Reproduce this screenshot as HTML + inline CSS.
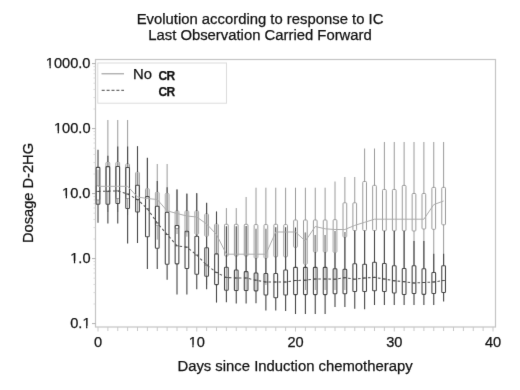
<!DOCTYPE html>
<html><head><meta charset="utf-8"><style>
html,body{margin:0;padding:0;background:#fff;}
body{width:520px;height:390px;position:relative;overflow:hidden;font-family:'Liberation Sans',sans-serif;color:#111;}
.t{position:absolute;white-space:nowrap;line-height:1;-webkit-text-stroke:0.25px #111;}
.one{display:inline-block;clip-path:polygon(0 0,100% 0,100% 69%,61% 69%,61% 100%,45.5% 100%,45.5% 69%,0 69%)}
</style></head><body>
<svg width="0" height="0" style="position:absolute"><defs><filter id="soft" x="0" y="0" width="100%" height="100%" color-interpolation-filters="sRGB"><feConvolveMatrix order="3" kernelMatrix="0.0052 0.0619 0.0052 0.0619 0.7314 0.0619 0.0052 0.0619 0.0052" edgeMode="duplicate" preserveAlpha="true"/></filter></defs></svg>
<div style="position:absolute;left:0;top:0;width:520px;height:390px;overflow:hidden"><div id="wrap" style="position:absolute;left:-10px;top:-10px;width:540px;height:410px;background:#fff;filter:url(#soft)"><div style="position:absolute;left:10px;top:10px;width:520px;height:390px">
<div class="t" style="left:0;width:520px;text-align:center;top:11.6px;font-size:14.85px;">Evolution according to response to IC</div>
<div class="t" style="left:0;width:520px;text-align:center;top:28.2px;font-size:14.85px;">Last Observation Carried Forward</div>
<div class="t" style="left:0;width:590px;text-align:center;top:358.8px;font-size:14.85px;">Days since Induction chemotherapy</div>
<div class="t" style="left:27.7px;top:193.4px;font-size:14.65px;transform:translate(-50%,-50%) rotate(-90deg);">Dosage D-2HG</div>
<div class="t" style="right:429.5px;top:55.8px;font-size:14.6px;"><span class="one">1</span>000.0</div>
<div class="t" style="right:429.5px;top:120.8px;font-size:14.6px;"><span class="one">1</span>00.0</div>
<div class="t" style="right:429.5px;top:185.8px;font-size:14.6px;"><span class="one">1</span>0.0</div>
<div class="t" style="right:429.5px;top:250.8px;font-size:14.6px;"><span class="one">1</span>.0</div>
<div class="t" style="right:429.5px;top:315.8px;font-size:14.6px;">0.<span class="one">1</span></div>
<div class="t" style="left:78.00px;width:40px;text-align:center;top:334.8px;font-size:14.6px;">0</div>
<div class="t xl" style="left:176.75px;width:40px;text-align:center;top:334.8px;font-size:14.6px;"><span class="one">1</span>0</div>
<div class="t xl" style="left:275.50px;width:40px;text-align:center;top:334.8px;font-size:14.6px;">20</div>
<div class="t xl" style="left:374.25px;width:40px;text-align:center;top:334.8px;font-size:14.6px;">30</div>
<div class="t xl" style="left:473.00px;width:40px;text-align:center;top:334.8px;font-size:14.6px;">40</div>
<div class="t" style="left:133px;top:67.1px;font-size:14.85px;">No</div>
<div class="t" style="left:158.6px;top:69.9px;font-size:12px;font-weight:bold;letter-spacing:-0.7px;">CR</div>
<div class="t" style="left:158.6px;top:85.9px;font-size:12px;font-weight:bold;letter-spacing:-0.7px;">CR</div>
<svg width="520" height="390" style="position:absolute;left:0;top:0">
<rect x="95.5" y="59.5" width="400" height="267.5" fill="none" stroke="#c4c4c4" stroke-width="1.2"/>
<line x1="92" y1="323.60" x2="95.5" y2="323.60" stroke="#b0b0b0" stroke-width="1"/>
<line x1="93.5" y1="304.03" x2="95.5" y2="304.03" stroke="#d0d0d0" stroke-width="0.8"/>
<line x1="93.5" y1="292.59" x2="95.5" y2="292.59" stroke="#d0d0d0" stroke-width="0.8"/>
<line x1="93.5" y1="284.47" x2="95.5" y2="284.47" stroke="#d0d0d0" stroke-width="0.8"/>
<line x1="93.5" y1="278.17" x2="95.5" y2="278.17" stroke="#d0d0d0" stroke-width="0.8"/>
<line x1="93.5" y1="273.02" x2="95.5" y2="273.02" stroke="#d0d0d0" stroke-width="0.8"/>
<line x1="93.5" y1="268.67" x2="95.5" y2="268.67" stroke="#d0d0d0" stroke-width="0.8"/>
<line x1="93.5" y1="264.90" x2="95.5" y2="264.90" stroke="#d0d0d0" stroke-width="0.8"/>
<line x1="93.5" y1="261.57" x2="95.5" y2="261.57" stroke="#d0d0d0" stroke-width="0.8"/>
<line x1="92" y1="258.60" x2="95.5" y2="258.60" stroke="#b0b0b0" stroke-width="1"/>
<line x1="93.5" y1="239.03" x2="95.5" y2="239.03" stroke="#d0d0d0" stroke-width="0.8"/>
<line x1="93.5" y1="227.59" x2="95.5" y2="227.59" stroke="#d0d0d0" stroke-width="0.8"/>
<line x1="93.5" y1="219.47" x2="95.5" y2="219.47" stroke="#d0d0d0" stroke-width="0.8"/>
<line x1="93.5" y1="213.17" x2="95.5" y2="213.17" stroke="#d0d0d0" stroke-width="0.8"/>
<line x1="93.5" y1="208.02" x2="95.5" y2="208.02" stroke="#d0d0d0" stroke-width="0.8"/>
<line x1="93.5" y1="203.67" x2="95.5" y2="203.67" stroke="#d0d0d0" stroke-width="0.8"/>
<line x1="93.5" y1="199.90" x2="95.5" y2="199.90" stroke="#d0d0d0" stroke-width="0.8"/>
<line x1="93.5" y1="196.57" x2="95.5" y2="196.57" stroke="#d0d0d0" stroke-width="0.8"/>
<line x1="92" y1="193.60" x2="95.5" y2="193.60" stroke="#b0b0b0" stroke-width="1"/>
<line x1="93.5" y1="174.03" x2="95.5" y2="174.03" stroke="#d0d0d0" stroke-width="0.8"/>
<line x1="93.5" y1="162.59" x2="95.5" y2="162.59" stroke="#d0d0d0" stroke-width="0.8"/>
<line x1="93.5" y1="154.47" x2="95.5" y2="154.47" stroke="#d0d0d0" stroke-width="0.8"/>
<line x1="93.5" y1="148.17" x2="95.5" y2="148.17" stroke="#d0d0d0" stroke-width="0.8"/>
<line x1="93.5" y1="143.02" x2="95.5" y2="143.02" stroke="#d0d0d0" stroke-width="0.8"/>
<line x1="93.5" y1="138.67" x2="95.5" y2="138.67" stroke="#d0d0d0" stroke-width="0.8"/>
<line x1="93.5" y1="134.90" x2="95.5" y2="134.90" stroke="#d0d0d0" stroke-width="0.8"/>
<line x1="93.5" y1="131.57" x2="95.5" y2="131.57" stroke="#d0d0d0" stroke-width="0.8"/>
<line x1="92" y1="128.60" x2="95.5" y2="128.60" stroke="#b0b0b0" stroke-width="1"/>
<line x1="93.5" y1="109.03" x2="95.5" y2="109.03" stroke="#d0d0d0" stroke-width="0.8"/>
<line x1="93.5" y1="97.59" x2="95.5" y2="97.59" stroke="#d0d0d0" stroke-width="0.8"/>
<line x1="93.5" y1="89.47" x2="95.5" y2="89.47" stroke="#d0d0d0" stroke-width="0.8"/>
<line x1="93.5" y1="83.17" x2="95.5" y2="83.17" stroke="#d0d0d0" stroke-width="0.8"/>
<line x1="93.5" y1="78.02" x2="95.5" y2="78.02" stroke="#d0d0d0" stroke-width="0.8"/>
<line x1="93.5" y1="73.67" x2="95.5" y2="73.67" stroke="#d0d0d0" stroke-width="0.8"/>
<line x1="93.5" y1="69.90" x2="95.5" y2="69.90" stroke="#d0d0d0" stroke-width="0.8"/>
<line x1="93.5" y1="66.57" x2="95.5" y2="66.57" stroke="#d0d0d0" stroke-width="0.8"/>
<line x1="92" y1="63.60" x2="95.5" y2="63.60" stroke="#b0b0b0" stroke-width="1"/>
<line x1="98.00" y1="327" x2="98.00" y2="331.5" stroke="#c8c8c8" stroke-width="1"/>
<line x1="107.88" y1="327" x2="107.88" y2="331" stroke="#c8c8c8" stroke-width="1"/>
<line x1="117.75" y1="327" x2="117.75" y2="331" stroke="#c8c8c8" stroke-width="1"/>
<line x1="127.62" y1="327" x2="127.62" y2="331" stroke="#c8c8c8" stroke-width="1"/>
<line x1="137.50" y1="327" x2="137.50" y2="331" stroke="#c8c8c8" stroke-width="1"/>
<line x1="147.38" y1="327" x2="147.38" y2="331" stroke="#c8c8c8" stroke-width="1"/>
<line x1="157.25" y1="327" x2="157.25" y2="331" stroke="#c8c8c8" stroke-width="1"/>
<line x1="167.12" y1="327" x2="167.12" y2="331" stroke="#c8c8c8" stroke-width="1"/>
<line x1="177.00" y1="327" x2="177.00" y2="331" stroke="#c8c8c8" stroke-width="1"/>
<line x1="186.88" y1="327" x2="186.88" y2="331" stroke="#c8c8c8" stroke-width="1"/>
<line x1="196.75" y1="327" x2="196.75" y2="331.5" stroke="#c8c8c8" stroke-width="1"/>
<line x1="206.62" y1="327" x2="206.62" y2="331" stroke="#c8c8c8" stroke-width="1"/>
<line x1="216.50" y1="327" x2="216.50" y2="331" stroke="#c8c8c8" stroke-width="1"/>
<line x1="226.38" y1="327" x2="226.38" y2="331" stroke="#c8c8c8" stroke-width="1"/>
<line x1="236.25" y1="327" x2="236.25" y2="331" stroke="#c8c8c8" stroke-width="1"/>
<line x1="246.12" y1="327" x2="246.12" y2="331" stroke="#c8c8c8" stroke-width="1"/>
<line x1="256.00" y1="327" x2="256.00" y2="331" stroke="#c8c8c8" stroke-width="1"/>
<line x1="265.88" y1="327" x2="265.88" y2="331" stroke="#c8c8c8" stroke-width="1"/>
<line x1="275.75" y1="327" x2="275.75" y2="331" stroke="#c8c8c8" stroke-width="1"/>
<line x1="285.62" y1="327" x2="285.62" y2="331" stroke="#c8c8c8" stroke-width="1"/>
<line x1="295.50" y1="327" x2="295.50" y2="331.5" stroke="#c8c8c8" stroke-width="1"/>
<line x1="305.38" y1="327" x2="305.38" y2="331" stroke="#c8c8c8" stroke-width="1"/>
<line x1="315.25" y1="327" x2="315.25" y2="331" stroke="#c8c8c8" stroke-width="1"/>
<line x1="325.12" y1="327" x2="325.12" y2="331" stroke="#c8c8c8" stroke-width="1"/>
<line x1="335.00" y1="327" x2="335.00" y2="331" stroke="#c8c8c8" stroke-width="1"/>
<line x1="344.88" y1="327" x2="344.88" y2="331" stroke="#c8c8c8" stroke-width="1"/>
<line x1="354.75" y1="327" x2="354.75" y2="331" stroke="#c8c8c8" stroke-width="1"/>
<line x1="364.62" y1="327" x2="364.62" y2="331" stroke="#c8c8c8" stroke-width="1"/>
<line x1="374.50" y1="327" x2="374.50" y2="331" stroke="#c8c8c8" stroke-width="1"/>
<line x1="384.38" y1="327" x2="384.38" y2="331" stroke="#c8c8c8" stroke-width="1"/>
<line x1="394.25" y1="327" x2="394.25" y2="331.5" stroke="#c8c8c8" stroke-width="1"/>
<line x1="404.12" y1="327" x2="404.12" y2="331" stroke="#c8c8c8" stroke-width="1"/>
<line x1="414.00" y1="327" x2="414.00" y2="331" stroke="#c8c8c8" stroke-width="1"/>
<line x1="423.88" y1="327" x2="423.88" y2="331" stroke="#c8c8c8" stroke-width="1"/>
<line x1="433.75" y1="327" x2="433.75" y2="331" stroke="#c8c8c8" stroke-width="1"/>
<line x1="443.62" y1="327" x2="443.62" y2="331" stroke="#c8c8c8" stroke-width="1"/>
<line x1="453.50" y1="327" x2="453.50" y2="331" stroke="#c8c8c8" stroke-width="1"/>
<line x1="463.38" y1="327" x2="463.38" y2="331" stroke="#c8c8c8" stroke-width="1"/>
<line x1="473.25" y1="327" x2="473.25" y2="331" stroke="#c8c8c8" stroke-width="1"/>
<line x1="483.12" y1="327" x2="483.12" y2="331" stroke="#c8c8c8" stroke-width="1"/>
<line x1="493.00" y1="327" x2="493.00" y2="331.5" stroke="#c8c8c8" stroke-width="1"/>
<rect x="97.8" y="63" width="128.7" height="40.2" fill="none" stroke="#dcdcdc" stroke-width="1"/>
<line x1="101.5" y1="73.8" x2="124" y2="73.8" stroke="#9a9a9a" stroke-width="1.1"/>
<line x1="101.7" y1="90.3" x2="124" y2="90.3" stroke="#454545" stroke-width="1" stroke-dasharray="3,1.9"/>
<line x1="98.00" y1="169.6" x2="98.00" y2="185.8" stroke="#9a9a9a" stroke-width="1.0"/><line x1="98.00" y1="200" x2="98.00" y2="204" stroke="#9a9a9a" stroke-width="1.0"/><rect x="96.15" y="185.8" width="3.7" height="14.20" rx="0.8" fill="none" stroke="#9a9a9a" stroke-width="1.0"/>
<line x1="107.88" y1="120" x2="107.88" y2="162.3" stroke="#9a9a9a" stroke-width="1.0"/><line x1="107.88" y1="191.5" x2="107.88" y2="212" stroke="#9a9a9a" stroke-width="1.0"/><rect x="106.03" y="162.3" width="3.7" height="29.20" rx="0.8" fill="none" stroke="#9a9a9a" stroke-width="1.0"/>
<line x1="117.75" y1="120" x2="117.75" y2="162.3" stroke="#9a9a9a" stroke-width="1.0"/><line x1="117.75" y1="198.5" x2="117.75" y2="212" stroke="#9a9a9a" stroke-width="1.0"/><rect x="115.90" y="162.3" width="3.7" height="36.20" rx="0.8" fill="none" stroke="#9a9a9a" stroke-width="1.0"/>
<line x1="127.62" y1="120" x2="127.62" y2="164" stroke="#9a9a9a" stroke-width="1.0"/><line x1="127.62" y1="198.5" x2="127.62" y2="215" stroke="#9a9a9a" stroke-width="1.0"/><rect x="125.78" y="164" width="3.7" height="34.50" rx="0.8" fill="none" stroke="#9a9a9a" stroke-width="1.0"/>
<line x1="137.50" y1="146.5" x2="137.50" y2="172.3" stroke="#9a9a9a" stroke-width="1.0"/><line x1="137.50" y1="199.6" x2="137.50" y2="222" stroke="#9a9a9a" stroke-width="1.0"/><rect x="135.65" y="172.3" width="3.7" height="27.30" rx="0.8" fill="none" stroke="#9a9a9a" stroke-width="1.0"/>
<line x1="147.38" y1="158" x2="147.38" y2="188.6" stroke="#9a9a9a" stroke-width="1.0"/><line x1="147.38" y1="197" x2="147.38" y2="197" stroke="#9a9a9a" stroke-width="1.0"/><rect x="145.53" y="188.6" width="3.7" height="8.40" rx="0.8" fill="none" stroke="#9a9a9a" stroke-width="1.0"/>
<line x1="157.25" y1="164" x2="157.25" y2="192.3" stroke="#9a9a9a" stroke-width="1.0"/><line x1="157.25" y1="225.3" x2="157.25" y2="239.6" stroke="#9a9a9a" stroke-width="1.0"/><rect x="155.40" y="192.3" width="3.7" height="33.00" rx="0.8" fill="none" stroke="#9a9a9a" stroke-width="1.0"/>
<line x1="167.12" y1="164" x2="167.12" y2="193.5" stroke="#9a9a9a" stroke-width="1.0"/><line x1="167.12" y1="212.3" x2="167.12" y2="212.3" stroke="#9a9a9a" stroke-width="1.0"/><rect x="165.28" y="193.5" width="3.7" height="18.80" rx="0.8" fill="none" stroke="#9a9a9a" stroke-width="1.0"/>
<line x1="177.00" y1="190" x2="177.00" y2="211" stroke="#9a9a9a" stroke-width="1.0"/><line x1="177.00" y1="228.6" x2="177.00" y2="234" stroke="#9a9a9a" stroke-width="1.0"/><rect x="175.15" y="211" width="3.7" height="17.60" rx="0.8" fill="none" stroke="#9a9a9a" stroke-width="1.0"/>
<line x1="186.88" y1="194" x2="186.88" y2="211" stroke="#9a9a9a" stroke-width="1.0"/><line x1="186.88" y1="232" x2="186.88" y2="236.7" stroke="#9a9a9a" stroke-width="1.0"/><rect x="185.03" y="211" width="3.7" height="21.00" rx="0.8" fill="none" stroke="#9a9a9a" stroke-width="1.0"/>
<line x1="196.75" y1="194" x2="196.75" y2="211" stroke="#9a9a9a" stroke-width="1.0"/><line x1="196.75" y1="234.2" x2="196.75" y2="236.2" stroke="#9a9a9a" stroke-width="1.0"/><rect x="194.90" y="211" width="3.7" height="23.20" rx="0.8" fill="none" stroke="#9a9a9a" stroke-width="1.0"/>
<line x1="206.62" y1="203" x2="206.62" y2="214" stroke="#9a9a9a" stroke-width="1.0"/><line x1="206.62" y1="236.2" x2="206.62" y2="285" stroke="#9a9a9a" stroke-width="1.0"/><rect x="204.78" y="214" width="3.7" height="22.20" rx="0.8" fill="none" stroke="#9a9a9a" stroke-width="1.0"/>
<line x1="216.50" y1="212" x2="216.50" y2="224.2" stroke="#9a9a9a" stroke-width="1.0"/><line x1="216.50" y1="253.7" x2="216.50" y2="253.7" stroke="#9a9a9a" stroke-width="1.0"/><rect x="214.65" y="224.2" width="3.7" height="29.50" rx="0.8" fill="none" stroke="#9a9a9a" stroke-width="1.0"/>
<line x1="226.38" y1="208.1" x2="226.38" y2="224.3" stroke="#9a9a9a" stroke-width="1.0"/><line x1="226.38" y1="256" x2="226.38" y2="290" stroke="#9a9a9a" stroke-width="1.0"/><rect x="224.53" y="224.3" width="3.7" height="31.70" rx="0.8" fill="none" stroke="#9a9a9a" stroke-width="1.0"/>
<line x1="236.25" y1="208.1" x2="236.25" y2="224.3" stroke="#9a9a9a" stroke-width="1.0"/><line x1="236.25" y1="256" x2="236.25" y2="290" stroke="#9a9a9a" stroke-width="1.0"/><rect x="234.40" y="224.3" width="3.7" height="31.70" rx="0.8" fill="none" stroke="#9a9a9a" stroke-width="1.0"/>
<line x1="246.12" y1="197" x2="246.12" y2="224.3" stroke="#9a9a9a" stroke-width="1.0"/><line x1="246.12" y1="256" x2="246.12" y2="290" stroke="#9a9a9a" stroke-width="1.0"/><rect x="244.28" y="224.3" width="3.7" height="31.70" rx="0.8" fill="none" stroke="#9a9a9a" stroke-width="1.0"/>
<line x1="256.00" y1="187.7" x2="256.00" y2="224.6" stroke="#9a9a9a" stroke-width="1.0"/><line x1="256.00" y1="258" x2="256.00" y2="290" stroke="#9a9a9a" stroke-width="1.0"/><rect x="254.15" y="224.6" width="3.7" height="33.40" rx="0.8" fill="none" stroke="#9a9a9a" stroke-width="1.0"/>
<line x1="265.88" y1="187.7" x2="265.88" y2="224.6" stroke="#9a9a9a" stroke-width="1.0"/><line x1="265.88" y1="258" x2="265.88" y2="285" stroke="#9a9a9a" stroke-width="1.0"/><rect x="264.02" y="224.6" width="3.7" height="33.40" rx="0.8" fill="none" stroke="#9a9a9a" stroke-width="1.0"/>
<line x1="275.75" y1="187.7" x2="275.75" y2="224.3" stroke="#9a9a9a" stroke-width="1.0"/><line x1="275.75" y1="256.8" x2="275.75" y2="273.5" stroke="#9a9a9a" stroke-width="1.0"/><rect x="273.90" y="224.3" width="3.7" height="32.50" rx="0.8" fill="none" stroke="#9a9a9a" stroke-width="1.0"/>
<line x1="285.62" y1="187.7" x2="285.62" y2="224.6" stroke="#9a9a9a" stroke-width="1.0"/><line x1="285.62" y1="256.8" x2="285.62" y2="270" stroke="#9a9a9a" stroke-width="1.0"/><rect x="283.77" y="224.6" width="3.7" height="32.20" rx="0.8" fill="none" stroke="#9a9a9a" stroke-width="1.0"/>
<line x1="295.50" y1="187.7" x2="295.50" y2="220" stroke="#9a9a9a" stroke-width="1.0"/><line x1="295.50" y1="247.3" x2="295.50" y2="267.4" stroke="#9a9a9a" stroke-width="1.0"/><rect x="293.65" y="220" width="3.7" height="27.30" rx="0.8" fill="none" stroke="#9a9a9a" stroke-width="1.0"/>
<line x1="305.38" y1="187.7" x2="305.38" y2="220" stroke="#9a9a9a" stroke-width="1.0"/><line x1="305.38" y1="264.2" x2="305.38" y2="290" stroke="#9a9a9a" stroke-width="1.0"/><rect x="303.52" y="220" width="3.7" height="44.20" rx="0.8" fill="none" stroke="#9a9a9a" stroke-width="1.0"/>
<line x1="315.25" y1="187.7" x2="315.25" y2="220" stroke="#9a9a9a" stroke-width="1.0"/><line x1="315.25" y1="252" x2="315.25" y2="290" stroke="#9a9a9a" stroke-width="1.0"/><rect x="313.40" y="220" width="3.7" height="32.00" rx="0.8" fill="none" stroke="#9a9a9a" stroke-width="1.0"/>
<line x1="325.12" y1="187.7" x2="325.12" y2="220" stroke="#9a9a9a" stroke-width="1.0"/><line x1="325.12" y1="252" x2="325.12" y2="290" stroke="#9a9a9a" stroke-width="1.0"/><rect x="323.27" y="220" width="3.7" height="32.00" rx="0.8" fill="none" stroke="#9a9a9a" stroke-width="1.0"/>
<line x1="335.00" y1="181.5" x2="335.00" y2="219.7" stroke="#9a9a9a" stroke-width="1.0"/><line x1="335.00" y1="252.3" x2="335.00" y2="290" stroke="#9a9a9a" stroke-width="1.0"/><rect x="333.15" y="219.7" width="3.7" height="32.60" rx="0.8" fill="none" stroke="#9a9a9a" stroke-width="1.0"/>
<line x1="344.88" y1="177" x2="344.88" y2="202.8" stroke="#9a9a9a" stroke-width="1.0"/><line x1="344.88" y1="237" x2="344.88" y2="290" stroke="#9a9a9a" stroke-width="1.0"/><rect x="343.02" y="202.8" width="3.7" height="34.20" rx="0.8" fill="none" stroke="#9a9a9a" stroke-width="1.0"/>
<line x1="354.75" y1="177" x2="354.75" y2="202.8" stroke="#9a9a9a" stroke-width="1.0"/><line x1="354.75" y1="230.5" x2="354.75" y2="263.8" stroke="#9a9a9a" stroke-width="1.0"/><rect x="352.90" y="202.8" width="3.7" height="27.70" rx="0.8" fill="none" stroke="#9a9a9a" stroke-width="1.0"/>
<line x1="364.62" y1="148.5" x2="364.62" y2="181.5" stroke="#9a9a9a" stroke-width="1.0"/><line x1="364.62" y1="230.5" x2="364.62" y2="264.2" stroke="#9a9a9a" stroke-width="1.0"/><rect x="362.77" y="181.5" width="3.7" height="49.00" rx="0.8" fill="none" stroke="#9a9a9a" stroke-width="1.0"/>
<line x1="374.50" y1="148.5" x2="374.50" y2="185.4" stroke="#9a9a9a" stroke-width="1.0"/><line x1="374.50" y1="230.5" x2="374.50" y2="262.3" stroke="#9a9a9a" stroke-width="1.0"/><rect x="372.65" y="185.4" width="3.7" height="45.10" rx="0.8" fill="none" stroke="#9a9a9a" stroke-width="1.0"/>
<line x1="384.38" y1="142" x2="384.38" y2="189.5" stroke="#9a9a9a" stroke-width="1.0"/><line x1="384.38" y1="230.8" x2="384.38" y2="263.5" stroke="#9a9a9a" stroke-width="1.0"/><rect x="382.52" y="189.5" width="3.7" height="41.30" rx="0.8" fill="none" stroke="#9a9a9a" stroke-width="1.0"/>
<line x1="394.25" y1="142" x2="394.25" y2="189.5" stroke="#9a9a9a" stroke-width="1.0"/><line x1="394.25" y1="230.8" x2="394.25" y2="265.7" stroke="#9a9a9a" stroke-width="1.0"/><rect x="392.40" y="189.5" width="3.7" height="41.30" rx="0.8" fill="none" stroke="#9a9a9a" stroke-width="1.0"/>
<line x1="404.12" y1="142" x2="404.12" y2="185.4" stroke="#9a9a9a" stroke-width="1.0"/><line x1="404.12" y1="230.8" x2="404.12" y2="268.5" stroke="#9a9a9a" stroke-width="1.0"/><rect x="402.27" y="185.4" width="3.7" height="45.40" rx="0.8" fill="none" stroke="#9a9a9a" stroke-width="1.0"/>
<line x1="414.00" y1="142" x2="414.00" y2="193.5" stroke="#9a9a9a" stroke-width="1.0"/><line x1="414.00" y1="231" x2="414.00" y2="265.8" stroke="#9a9a9a" stroke-width="1.0"/><rect x="412.15" y="193.5" width="3.7" height="37.50" rx="0.8" fill="none" stroke="#9a9a9a" stroke-width="1.0"/>
<line x1="423.88" y1="142" x2="423.88" y2="193.5" stroke="#9a9a9a" stroke-width="1.0"/><line x1="423.88" y1="229" x2="423.88" y2="268.7" stroke="#9a9a9a" stroke-width="1.0"/><rect x="422.02" y="193.5" width="3.7" height="35.50" rx="0.8" fill="none" stroke="#9a9a9a" stroke-width="1.0"/>
<line x1="433.75" y1="142" x2="433.75" y2="187.4" stroke="#9a9a9a" stroke-width="1.0"/><line x1="433.75" y1="229.3" x2="433.75" y2="272.5" stroke="#9a9a9a" stroke-width="1.0"/><rect x="431.90" y="187.4" width="3.7" height="41.90" rx="0.8" fill="none" stroke="#9a9a9a" stroke-width="1.0"/>
<line x1="443.62" y1="142" x2="443.62" y2="187.4" stroke="#9a9a9a" stroke-width="1.0"/><line x1="443.62" y1="224.8" x2="443.62" y2="265.8" stroke="#9a9a9a" stroke-width="1.0"/><rect x="441.77" y="187.4" width="3.7" height="37.40" rx="0.8" fill="none" stroke="#9a9a9a" stroke-width="1.0"/>
<line x1="98.00" y1="149.7" x2="98.00" y2="167.4" stroke="#454545" stroke-width="1.1"/>
<line x1="98.00" y1="204.3" x2="98.00" y2="222.8" stroke="#454545" stroke-width="1.1"/>
<rect x="96.15" y="167.4" width="3.7" height="36.90" rx="0.8" fill="none" stroke="#454545" stroke-width="1.1"/>
<line x1="107.88" y1="155.8" x2="107.88" y2="162.3" stroke="#454545" stroke-width="1.1"/>
<line x1="107.88" y1="162.3" x2="107.88" y2="166.6" stroke="#d6d6d6" stroke-width="3"/>
<line x1="107.88" y1="162.3" x2="107.88" y2="166.6" stroke="#8a8a8a" stroke-width="1.1"/>
<line x1="107.88" y1="204.3" x2="107.88" y2="223.5" stroke="#454545" stroke-width="1.1"/>
<rect x="106.03" y="166.6" width="3.7" height="37.70" rx="0.8" fill="none" stroke="#454545" stroke-width="1.1"/>
<line x1="117.75" y1="146.6" x2="117.75" y2="162.3" stroke="#454545" stroke-width="1.1"/>
<line x1="117.75" y1="162.3" x2="117.75" y2="166.5" stroke="#d6d6d6" stroke-width="3"/>
<line x1="117.75" y1="162.3" x2="117.75" y2="166.5" stroke="#8a8a8a" stroke-width="1.1"/>
<line x1="117.75" y1="203.5" x2="117.75" y2="223.5" stroke="#454545" stroke-width="1.1"/>
<rect x="115.90" y="166.5" width="3.7" height="37.00" rx="0.8" fill="none" stroke="#454545" stroke-width="1.1"/>
<line x1="127.62" y1="146.6" x2="127.62" y2="164" stroke="#454545" stroke-width="1.1"/>
<line x1="127.62" y1="164" x2="127.62" y2="167.5" stroke="#d6d6d6" stroke-width="3"/>
<line x1="127.62" y1="164" x2="127.62" y2="167.5" stroke="#8a8a8a" stroke-width="1.1"/>
<line x1="127.62" y1="208.5" x2="127.62" y2="243.5" stroke="#454545" stroke-width="1.1"/>
<rect x="125.78" y="167.5" width="3.7" height="41.00" rx="0.8" fill="none" stroke="#454545" stroke-width="1.1"/>
<line x1="137.50" y1="146.2" x2="137.50" y2="172.3" stroke="#454545" stroke-width="1.1"/>
<line x1="137.50" y1="172.3" x2="137.50" y2="185.3" stroke="#d6d6d6" stroke-width="3"/>
<line x1="137.50" y1="172.3" x2="137.50" y2="185.3" stroke="#8a8a8a" stroke-width="1.1"/>
<line x1="137.50" y1="212" x2="137.50" y2="243" stroke="#454545" stroke-width="1.1"/>
<rect x="135.65" y="185.3" width="3.7" height="26.70" rx="0.8" fill="none" stroke="#454545" stroke-width="1.1"/>
<line x1="147.38" y1="157.8" x2="147.38" y2="188.6" stroke="#454545" stroke-width="1.1"/>
<line x1="147.38" y1="188.6" x2="147.38" y2="196.5" stroke="#d6d6d6" stroke-width="3"/>
<line x1="147.38" y1="188.6" x2="147.38" y2="196.5" stroke="#8a8a8a" stroke-width="1.1"/>
<line x1="147.38" y1="236.7" x2="147.38" y2="269" stroke="#454545" stroke-width="1.1"/>
<rect x="145.53" y="196.5" width="3.7" height="40.20" rx="0.8" fill="none" stroke="#454545" stroke-width="1.1"/>
<line x1="157.25" y1="181" x2="157.25" y2="192.3" stroke="#454545" stroke-width="1.1"/>
<line x1="157.25" y1="192.3" x2="157.25" y2="206.3" stroke="#d6d6d6" stroke-width="3"/>
<line x1="157.25" y1="192.3" x2="157.25" y2="206.3" stroke="#8a8a8a" stroke-width="1.1"/>
<line x1="157.25" y1="248.3" x2="157.25" y2="269" stroke="#454545" stroke-width="1.1"/>
<rect x="155.40" y="206.3" width="3.7" height="42.00" rx="0.8" fill="none" stroke="#454545" stroke-width="1.1"/>
<line x1="167.12" y1="187.2" x2="167.12" y2="193.5" stroke="#454545" stroke-width="1.1"/>
<line x1="167.12" y1="193.5" x2="167.12" y2="212.2" stroke="#d6d6d6" stroke-width="3"/>
<line x1="167.12" y1="193.5" x2="167.12" y2="212.2" stroke="#8a8a8a" stroke-width="1.1"/>
<line x1="167.12" y1="264.3" x2="167.12" y2="279.7" stroke="#454545" stroke-width="1.1"/>
<rect x="165.28" y="212.2" width="3.7" height="52.10" rx="0.8" fill="none" stroke="#454545" stroke-width="1.1"/>
<line x1="177.00" y1="189.2" x2="177.00" y2="211" stroke="#454545" stroke-width="1.1"/>
<line x1="177.00" y1="211" x2="177.00" y2="225.5" stroke="#d6d6d6" stroke-width="3"/>
<line x1="177.00" y1="211" x2="177.00" y2="225.5" stroke="#8a8a8a" stroke-width="1.1"/>
<line x1="177.00" y1="263.9" x2="177.00" y2="294.6" stroke="#454545" stroke-width="1.1"/>
<rect x="175.15" y="225.5" width="3.7" height="38.40" rx="0.8" fill="none" stroke="#454545" stroke-width="1.1"/>
<line x1="186.88" y1="193.5" x2="186.88" y2="211" stroke="#454545" stroke-width="1.1"/>
<line x1="186.88" y1="211" x2="186.88" y2="231.2" stroke="#d6d6d6" stroke-width="3"/>
<line x1="186.88" y1="211" x2="186.88" y2="231.2" stroke="#8a8a8a" stroke-width="1.1"/>
<line x1="186.88" y1="268.5" x2="186.88" y2="294.6" stroke="#454545" stroke-width="1.1"/>
<rect x="185.03" y="231.2" width="3.7" height="37.30" rx="0.8" fill="none" stroke="#454545" stroke-width="1.1"/>
<line x1="196.75" y1="193" x2="196.75" y2="211" stroke="#454545" stroke-width="1.1"/>
<line x1="196.75" y1="234.2" x2="196.75" y2="236.3" stroke="#454545" stroke-width="1.1"/>
<line x1="196.75" y1="211" x2="196.75" y2="234.2" stroke="#d6d6d6" stroke-width="3"/>
<line x1="196.75" y1="211" x2="196.75" y2="234.2" stroke="#8a8a8a" stroke-width="1.1"/>
<line x1="196.75" y1="274.2" x2="196.75" y2="289.2" stroke="#454545" stroke-width="1.1"/>
<rect x="194.90" y="236.3" width="3.7" height="37.90" rx="0.8" fill="none" stroke="#454545" stroke-width="1.1"/>
<line x1="206.62" y1="202.7" x2="206.62" y2="214" stroke="#454545" stroke-width="1.1"/>
<line x1="206.62" y1="236.2" x2="206.62" y2="247.8" stroke="#454545" stroke-width="1.1"/>
<line x1="206.62" y1="214" x2="206.62" y2="236.2" stroke="#d6d6d6" stroke-width="3"/>
<line x1="206.62" y1="214" x2="206.62" y2="236.2" stroke="#8a8a8a" stroke-width="1.1"/>
<line x1="206.62" y1="276.2" x2="206.62" y2="289.2" stroke="#454545" stroke-width="1.1"/>
<rect x="204.78" y="247.8" width="3.7" height="28.40" rx="0.8" fill="none" stroke="#454545" stroke-width="1.1"/>
<line x1="216.50" y1="211.4" x2="216.50" y2="224.2" stroke="#454545" stroke-width="1.1"/>
<line x1="216.50" y1="253.7" x2="216.50" y2="253.9" stroke="#454545" stroke-width="1.1"/>
<line x1="216.50" y1="224.2" x2="216.50" y2="253.7" stroke="#d6d6d6" stroke-width="3"/>
<line x1="216.50" y1="224.2" x2="216.50" y2="253.7" stroke="#8a8a8a" stroke-width="1.1"/>
<line x1="216.50" y1="284.6" x2="216.50" y2="302.6" stroke="#454545" stroke-width="1.1"/>
<rect x="214.65" y="253.9" width="3.7" height="30.70" rx="0.8" fill="none" stroke="#454545" stroke-width="1.1"/>
<line x1="226.38" y1="256" x2="226.38" y2="267.3" stroke="#454545" stroke-width="1.1"/>
<line x1="226.38" y1="226.2" x2="226.38" y2="256" stroke="#454545" stroke-width="1.1"/>
<line x1="226.38" y1="290.3" x2="226.38" y2="302.3" stroke="#454545" stroke-width="1.1"/>
<rect x="224.53" y="267.3" width="3.7" height="23.00" rx="0.8" fill="none" stroke="#454545" stroke-width="1.1"/>
<line x1="236.25" y1="256" x2="236.25" y2="270" stroke="#454545" stroke-width="1.1"/>
<line x1="236.25" y1="226.2" x2="236.25" y2="256" stroke="#454545" stroke-width="1.1"/>
<line x1="236.25" y1="290.5" x2="236.25" y2="303.5" stroke="#454545" stroke-width="1.1"/>
<rect x="234.40" y="270" width="3.7" height="20.50" rx="0.8" fill="none" stroke="#454545" stroke-width="1.1"/>
<line x1="246.12" y1="256" x2="246.12" y2="271.6" stroke="#454545" stroke-width="1.1"/>
<line x1="246.12" y1="226" x2="246.12" y2="256" stroke="#454545" stroke-width="1.1"/>
<line x1="246.12" y1="290.5" x2="246.12" y2="303.5" stroke="#454545" stroke-width="1.1"/>
<rect x="244.28" y="271.6" width="3.7" height="18.90" rx="0.8" fill="none" stroke="#454545" stroke-width="1.1"/>
<line x1="256.00" y1="258" x2="256.00" y2="273" stroke="#454545" stroke-width="1.1"/>
<line x1="256.00" y1="228.8" x2="256.00" y2="258" stroke="#d6d6d6" stroke-width="3"/>
<line x1="256.00" y1="228.8" x2="256.00" y2="258" stroke="#8a8a8a" stroke-width="1.1"/>
<line x1="256.00" y1="290.9" x2="256.00" y2="303.2" stroke="#454545" stroke-width="1.1"/>
<rect x="254.15" y="273" width="3.7" height="17.90" rx="0.8" fill="none" stroke="#454545" stroke-width="1.1"/>
<line x1="265.88" y1="258" x2="265.88" y2="273.5" stroke="#454545" stroke-width="1.1"/>
<line x1="265.88" y1="228.8" x2="265.88" y2="258" stroke="#d6d6d6" stroke-width="3"/>
<line x1="265.88" y1="228.8" x2="265.88" y2="258" stroke="#8a8a8a" stroke-width="1.1"/>
<line x1="265.88" y1="295" x2="265.88" y2="310.5" stroke="#454545" stroke-width="1.1"/>
<rect x="264.02" y="273.5" width="3.7" height="21.50" rx="0.8" fill="none" stroke="#454545" stroke-width="1.1"/>
<line x1="275.75" y1="256.8" x2="275.75" y2="273.5" stroke="#454545" stroke-width="1.1"/>
<line x1="275.75" y1="227.3" x2="275.75" y2="256.8" stroke="#454545" stroke-width="1.1"/>
<line x1="275.75" y1="297.7" x2="275.75" y2="310.5" stroke="#454545" stroke-width="1.1"/>
<rect x="273.90" y="273.5" width="3.7" height="24.20" rx="0.8" fill="none" stroke="#454545" stroke-width="1.1"/>
<line x1="285.62" y1="256.8" x2="285.62" y2="270" stroke="#454545" stroke-width="1.1"/>
<line x1="285.62" y1="227.3" x2="285.62" y2="256.8" stroke="#454545" stroke-width="1.1"/>
<line x1="285.62" y1="295" x2="285.62" y2="311" stroke="#454545" stroke-width="1.1"/>
<rect x="283.77" y="270" width="3.7" height="25.00" rx="0.8" fill="none" stroke="#454545" stroke-width="1.1"/>
<line x1="295.50" y1="247.3" x2="295.50" y2="267.4" stroke="#454545" stroke-width="1.1"/>
<line x1="295.50" y1="227.5" x2="295.50" y2="247.3" stroke="#454545" stroke-width="1.1"/>
<line x1="295.50" y1="294.6" x2="295.50" y2="314" stroke="#454545" stroke-width="1.1"/>
<rect x="293.65" y="267.4" width="3.7" height="27.20" rx="0.8" fill="none" stroke="#454545" stroke-width="1.1"/>
<line x1="305.38" y1="264.2" x2="305.38" y2="267.4" stroke="#454545" stroke-width="1.1"/>
<line x1="305.38" y1="232.5" x2="305.38" y2="264.2" stroke="#d6d6d6" stroke-width="3"/>
<line x1="305.38" y1="232.5" x2="305.38" y2="264.2" stroke="#8a8a8a" stroke-width="1.1"/>
<line x1="305.38" y1="294.6" x2="305.38" y2="314" stroke="#454545" stroke-width="1.1"/>
<rect x="303.52" y="267.4" width="3.7" height="27.20" rx="0.8" fill="none" stroke="#454545" stroke-width="1.1"/>
<line x1="315.25" y1="252" x2="315.25" y2="267.4" stroke="#454545" stroke-width="1.1"/>
<line x1="315.25" y1="235" x2="315.25" y2="252" stroke="#d6d6d6" stroke-width="3"/>
<line x1="315.25" y1="235" x2="315.25" y2="252" stroke="#8a8a8a" stroke-width="1.1"/>
<line x1="315.25" y1="294.6" x2="315.25" y2="314" stroke="#454545" stroke-width="1.1"/>
<rect x="313.40" y="267.4" width="3.7" height="27.20" rx="0.8" fill="none" stroke="#454545" stroke-width="1.1"/>
<line x1="325.12" y1="252" x2="325.12" y2="267.4" stroke="#454545" stroke-width="1.1"/>
<line x1="325.12" y1="235" x2="325.12" y2="252" stroke="#d6d6d6" stroke-width="3"/>
<line x1="325.12" y1="235" x2="325.12" y2="252" stroke="#8a8a8a" stroke-width="1.1"/>
<line x1="325.12" y1="294.6" x2="325.12" y2="314" stroke="#454545" stroke-width="1.1"/>
<rect x="323.27" y="267.4" width="3.7" height="27.20" rx="0.8" fill="none" stroke="#454545" stroke-width="1.1"/>
<line x1="335.00" y1="252.3" x2="335.00" y2="268.8" stroke="#454545" stroke-width="1.1"/>
<line x1="335.00" y1="231" x2="335.00" y2="252.3" stroke="#d6d6d6" stroke-width="3"/>
<line x1="335.00" y1="231" x2="335.00" y2="252.3" stroke="#8a8a8a" stroke-width="1.1"/>
<line x1="335.00" y1="293.8" x2="335.00" y2="307" stroke="#454545" stroke-width="1.1"/>
<rect x="333.15" y="268.8" width="3.7" height="25.00" rx="0.8" fill="none" stroke="#454545" stroke-width="1.1"/>
<line x1="344.88" y1="237" x2="344.88" y2="269.2" stroke="#454545" stroke-width="1.1"/>
<line x1="344.88" y1="232" x2="344.88" y2="237" stroke="#d6d6d6" stroke-width="3"/>
<line x1="344.88" y1="232" x2="344.88" y2="237" stroke="#8a8a8a" stroke-width="1.1"/>
<line x1="344.88" y1="293.8" x2="344.88" y2="307" stroke="#454545" stroke-width="1.1"/>
<rect x="343.02" y="269.2" width="3.7" height="24.60" rx="0.8" fill="none" stroke="#454545" stroke-width="1.1"/>
<line x1="354.75" y1="230.8" x2="354.75" y2="263.8" stroke="#454545" stroke-width="1.1"/>
<line x1="354.75" y1="291.5" x2="354.75" y2="308.8" stroke="#454545" stroke-width="1.1"/>
<rect x="352.90" y="263.8" width="3.7" height="27.70" rx="0.8" fill="none" stroke="#454545" stroke-width="1.1"/>
<line x1="364.62" y1="230.8" x2="364.62" y2="264.2" stroke="#454545" stroke-width="1.1"/>
<line x1="364.62" y1="291.5" x2="364.62" y2="309.2" stroke="#454545" stroke-width="1.1"/>
<rect x="362.77" y="264.2" width="3.7" height="27.30" rx="0.8" fill="none" stroke="#454545" stroke-width="1.1"/>
<line x1="374.50" y1="230.8" x2="374.50" y2="262.3" stroke="#454545" stroke-width="1.1"/>
<line x1="374.50" y1="290.8" x2="374.50" y2="305" stroke="#454545" stroke-width="1.1"/>
<rect x="372.65" y="262.3" width="3.7" height="28.50" rx="0.8" fill="none" stroke="#454545" stroke-width="1.1"/>
<line x1="384.38" y1="231" x2="384.38" y2="263.5" stroke="#454545" stroke-width="1.1"/>
<line x1="384.38" y1="291.5" x2="384.38" y2="305" stroke="#454545" stroke-width="1.1"/>
<rect x="382.52" y="263.5" width="3.7" height="28.00" rx="0.8" fill="none" stroke="#454545" stroke-width="1.1"/>
<line x1="394.25" y1="231" x2="394.25" y2="265.7" stroke="#454545" stroke-width="1.1"/>
<line x1="394.25" y1="293" x2="394.25" y2="305" stroke="#454545" stroke-width="1.1"/>
<rect x="392.40" y="265.7" width="3.7" height="27.30" rx="0.8" fill="none" stroke="#454545" stroke-width="1.1"/>
<line x1="404.12" y1="231" x2="404.12" y2="268.5" stroke="#454545" stroke-width="1.1"/>
<line x1="404.12" y1="294.5" x2="404.12" y2="305" stroke="#454545" stroke-width="1.1"/>
<rect x="402.27" y="268.5" width="3.7" height="26.00" rx="0.8" fill="none" stroke="#454545" stroke-width="1.1"/>
<line x1="414.00" y1="241" x2="414.00" y2="265.8" stroke="#454545" stroke-width="1.1"/>
<line x1="414.00" y1="293.5" x2="414.00" y2="305" stroke="#454545" stroke-width="1.1"/>
<rect x="412.15" y="265.8" width="3.7" height="27.70" rx="0.8" fill="none" stroke="#454545" stroke-width="1.1"/>
<line x1="423.88" y1="241" x2="423.88" y2="268.7" stroke="#454545" stroke-width="1.1"/>
<line x1="423.88" y1="294.4" x2="423.88" y2="305" stroke="#454545" stroke-width="1.1"/>
<rect x="422.02" y="268.7" width="3.7" height="25.70" rx="0.8" fill="none" stroke="#454545" stroke-width="1.1"/>
<line x1="433.75" y1="253.8" x2="433.75" y2="272.5" stroke="#454545" stroke-width="1.1"/>
<line x1="433.75" y1="293.5" x2="433.75" y2="305" stroke="#454545" stroke-width="1.1"/>
<rect x="431.90" y="272.5" width="3.7" height="21.00" rx="0.8" fill="none" stroke="#454545" stroke-width="1.1"/>
<line x1="443.62" y1="253.8" x2="443.62" y2="265.8" stroke="#454545" stroke-width="1.1"/>
<line x1="443.62" y1="292.5" x2="443.62" y2="301.5" stroke="#454545" stroke-width="1.1"/>
<rect x="441.77" y="265.8" width="3.7" height="26.70" rx="0.8" fill="none" stroke="#454545" stroke-width="1.1"/>
<polyline points="98.00,186.3 107.88,186.3 117.75,186.3 127.62,186.3 137.50,197 147.38,198.5 157.25,199.5 167.12,210.8 177.00,213.5 186.88,216 196.75,217 206.62,224 216.50,234.5 226.38,254.2 236.25,254.2 246.12,254.2 256.00,254.2 265.88,254.2 275.75,232 285.62,232 295.50,232 305.38,241 315.25,226.5 325.12,228.8 335.00,229.5 344.88,229.5 354.75,225.4 364.62,222.3 374.50,219.2 384.38,219.2 394.25,219.2 404.12,219.2 414.00,219.2 423.88,219.2 433.75,204.6 443.62,201" fill="none" stroke="#ababab" stroke-width="1"/>
<polyline points="98.00,191.4 107.88,191.2 117.75,190.9 127.62,194 137.50,199.5 147.38,208.8 157.25,223 167.12,234.5 177.00,245.8 186.88,247.2 196.75,255 206.62,265 216.50,272.5 226.38,277.5 236.25,278 246.12,278 256.00,280.2 265.88,282 275.75,282 285.62,282 295.50,280.5 305.38,280.2 315.25,279 325.12,279 335.00,279.2 344.88,277.7 354.75,279.2 364.62,278 374.50,277.4 384.38,279 394.25,280.8 404.12,281.7 414.00,283 423.88,282.5 433.75,282 443.62,280.5" fill="none" stroke="#525252" stroke-width="1.05" stroke-dasharray="2.6,2.4"/>
<line x1="96.15" y1="191.4" x2="99.85" y2="191.4" stroke="#454545" stroke-width="0.8"/>
<line x1="106.03" y1="191.2" x2="109.72" y2="191.2" stroke="#454545" stroke-width="0.8"/>
<line x1="115.90" y1="190.9" x2="119.60" y2="190.9" stroke="#454545" stroke-width="0.8"/>
<line x1="125.78" y1="194" x2="129.47" y2="194" stroke="#454545" stroke-width="0.8"/>
<line x1="135.65" y1="199.5" x2="139.35" y2="199.5" stroke="#454545" stroke-width="0.8"/>
<line x1="145.53" y1="208.8" x2="149.22" y2="208.8" stroke="#454545" stroke-width="0.8"/>
<line x1="155.40" y1="223" x2="159.10" y2="223" stroke="#454545" stroke-width="0.8"/>
<line x1="165.28" y1="234.5" x2="168.97" y2="234.5" stroke="#454545" stroke-width="0.8"/>
<line x1="175.15" y1="245.8" x2="178.85" y2="245.8" stroke="#454545" stroke-width="0.8"/>
<line x1="185.03" y1="247.2" x2="188.72" y2="247.2" stroke="#454545" stroke-width="0.8"/>
<line x1="194.90" y1="255" x2="198.60" y2="255" stroke="#454545" stroke-width="0.8"/>
<line x1="204.78" y1="265" x2="208.47" y2="265" stroke="#454545" stroke-width="0.8"/>
<line x1="214.65" y1="272.5" x2="218.35" y2="272.5" stroke="#454545" stroke-width="0.8"/>
<line x1="224.53" y1="277.5" x2="228.22" y2="277.5" stroke="#454545" stroke-width="0.8"/>
<line x1="234.40" y1="278" x2="238.10" y2="278" stroke="#454545" stroke-width="0.8"/>
<line x1="244.28" y1="278" x2="247.97" y2="278" stroke="#454545" stroke-width="0.8"/>
<line x1="254.15" y1="280.2" x2="257.85" y2="280.2" stroke="#454545" stroke-width="0.8"/>
<line x1="264.02" y1="282" x2="267.73" y2="282" stroke="#454545" stroke-width="0.8"/>
<line x1="273.90" y1="282" x2="277.60" y2="282" stroke="#454545" stroke-width="0.8"/>
<line x1="283.77" y1="282" x2="287.48" y2="282" stroke="#454545" stroke-width="0.8"/>
<line x1="293.65" y1="280.5" x2="297.35" y2="280.5" stroke="#454545" stroke-width="0.8"/>
<line x1="303.52" y1="280.2" x2="307.23" y2="280.2" stroke="#454545" stroke-width="0.8"/>
<line x1="313.40" y1="279" x2="317.10" y2="279" stroke="#454545" stroke-width="0.8"/>
<line x1="323.27" y1="279" x2="326.98" y2="279" stroke="#454545" stroke-width="0.8"/>
<line x1="333.15" y1="279.2" x2="336.85" y2="279.2" stroke="#454545" stroke-width="0.8"/>
<line x1="343.02" y1="277.7" x2="346.73" y2="277.7" stroke="#454545" stroke-width="0.8"/>
<line x1="352.90" y1="279.2" x2="356.60" y2="279.2" stroke="#454545" stroke-width="0.8"/>
<line x1="362.77" y1="278" x2="366.48" y2="278" stroke="#454545" stroke-width="0.8"/>
<line x1="372.65" y1="277.4" x2="376.35" y2="277.4" stroke="#454545" stroke-width="0.8"/>
<line x1="382.52" y1="279" x2="386.23" y2="279" stroke="#454545" stroke-width="0.8"/>
<line x1="392.40" y1="280.8" x2="396.10" y2="280.8" stroke="#454545" stroke-width="0.8"/>
<line x1="402.27" y1="281.7" x2="405.98" y2="281.7" stroke="#454545" stroke-width="0.8"/>
<line x1="412.15" y1="283" x2="415.85" y2="283" stroke="#454545" stroke-width="0.8"/>
<line x1="422.02" y1="282.5" x2="425.73" y2="282.5" stroke="#454545" stroke-width="0.8"/>
<line x1="431.90" y1="282" x2="435.60" y2="282" stroke="#454545" stroke-width="0.8"/>
<line x1="441.77" y1="280.5" x2="445.48" y2="280.5" stroke="#454545" stroke-width="0.8"/>
</svg>
</div></div></div>
</body></html>
